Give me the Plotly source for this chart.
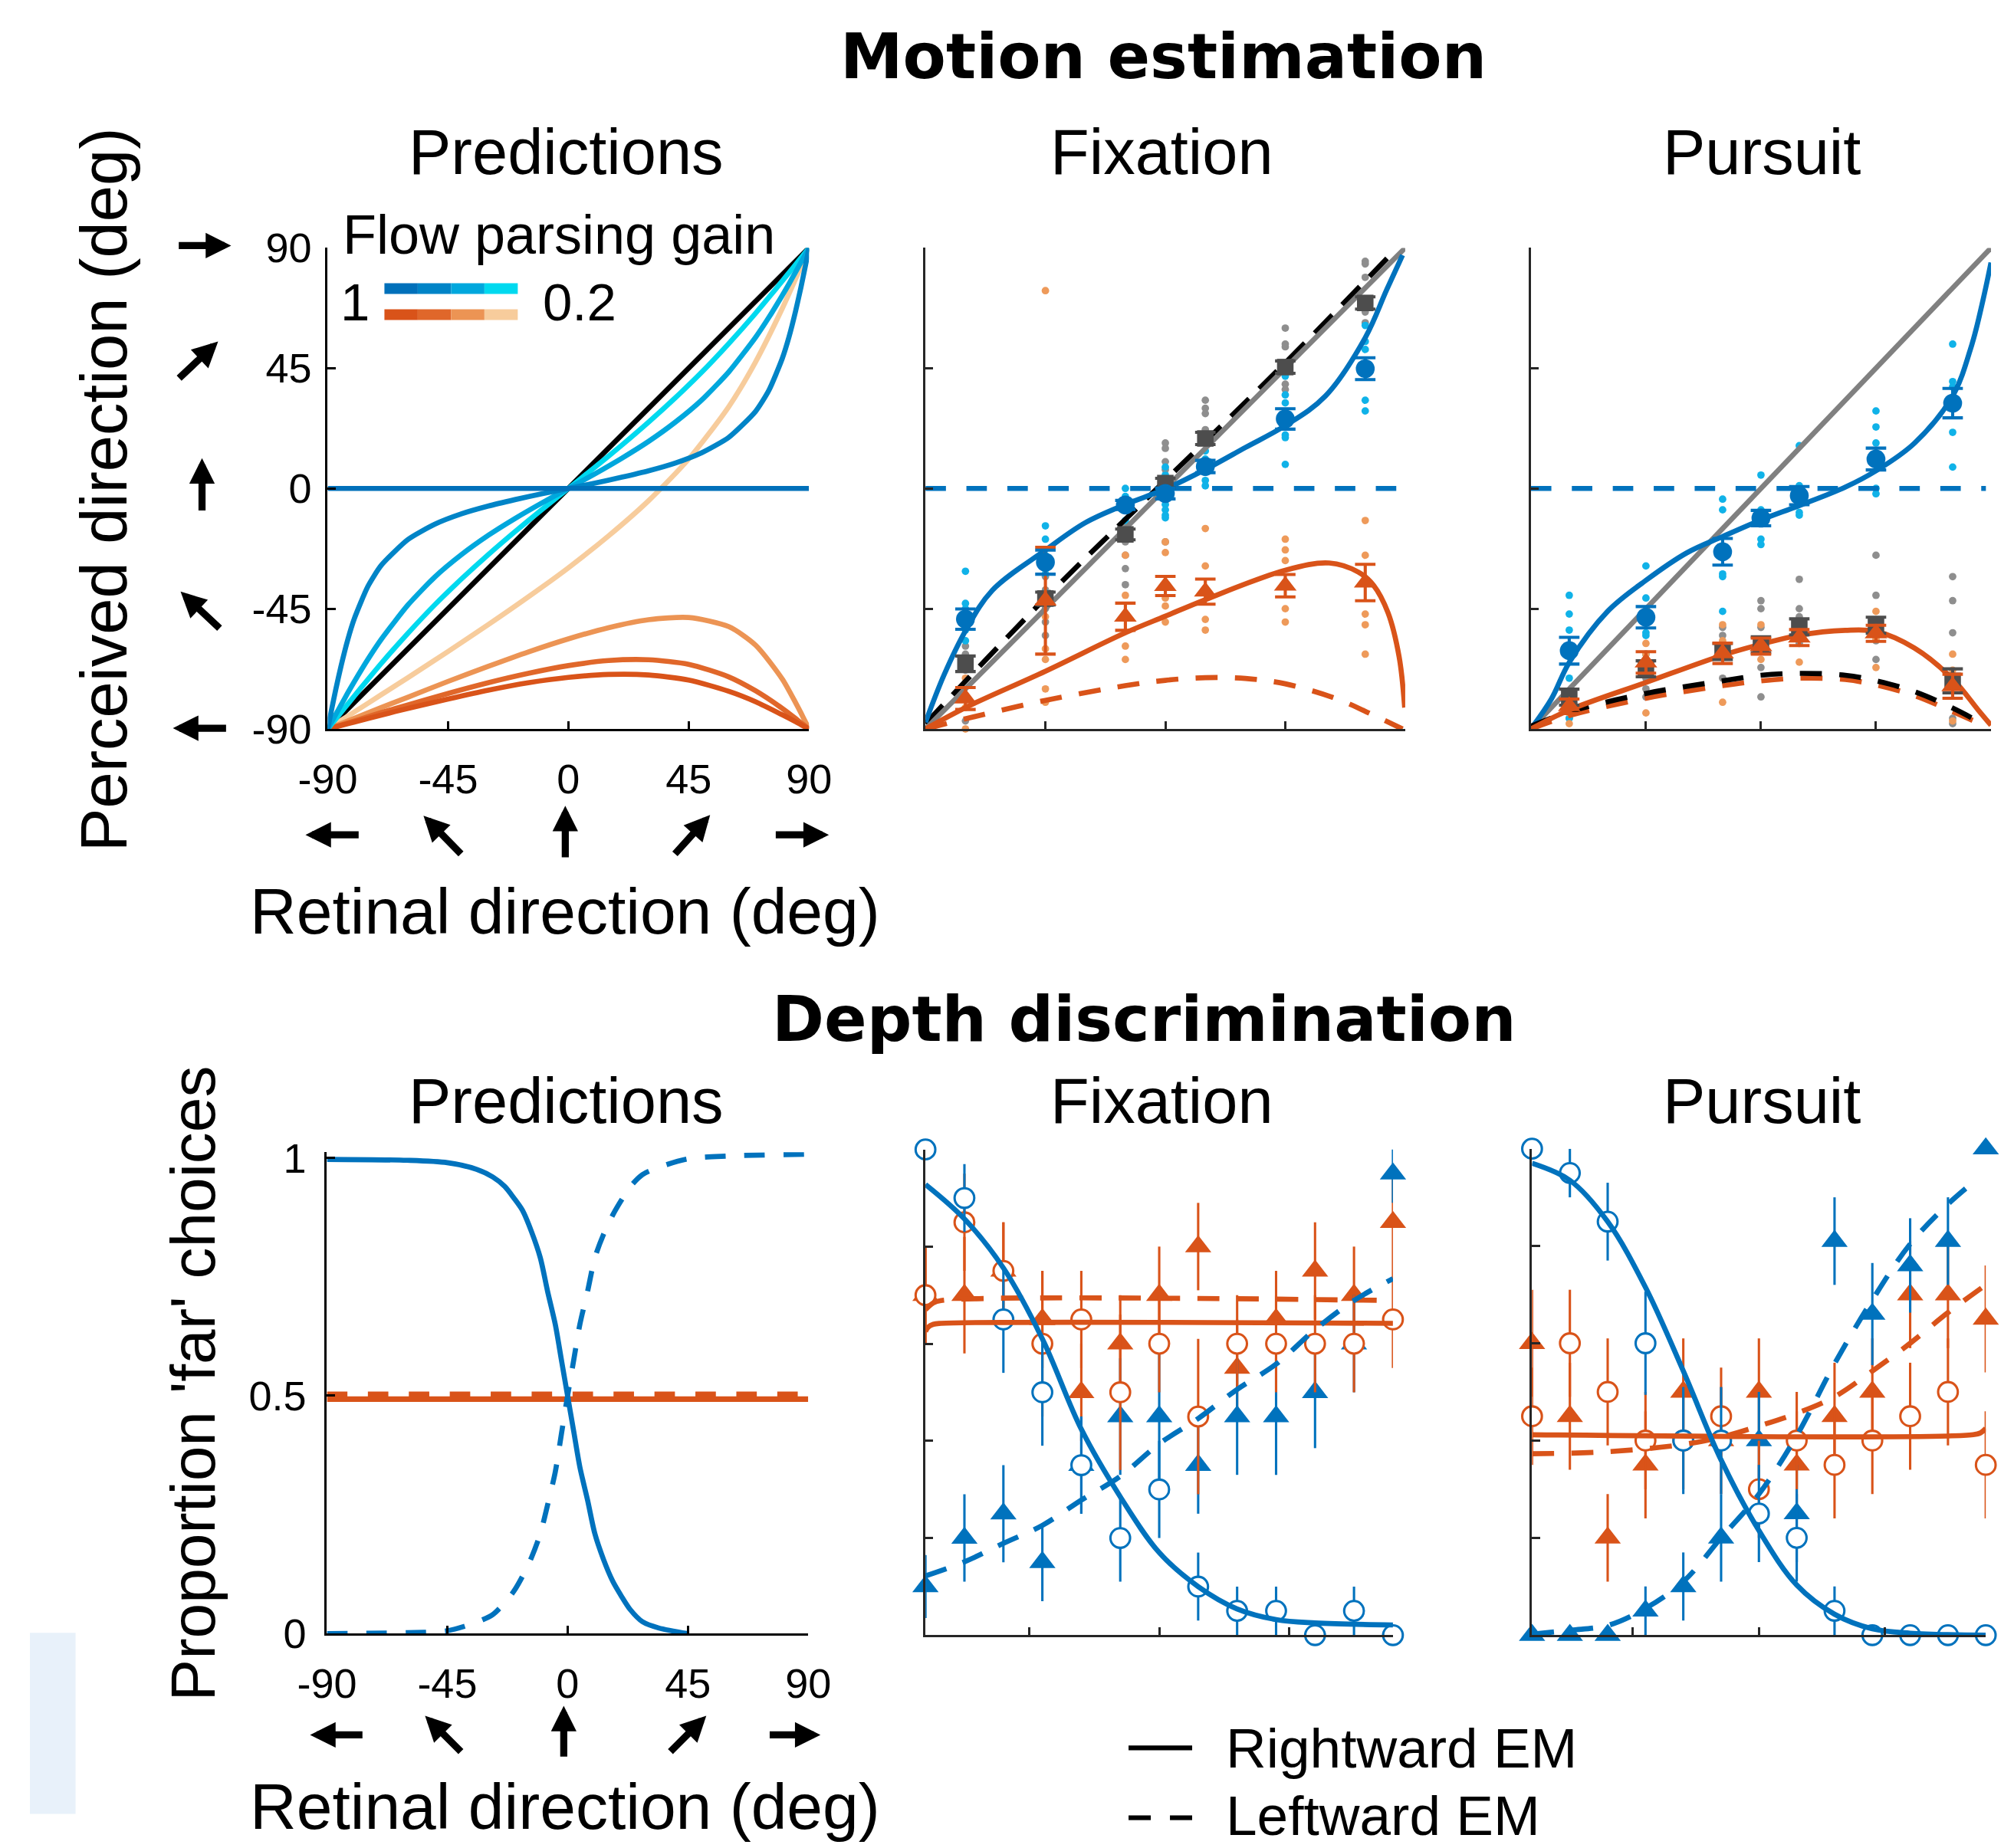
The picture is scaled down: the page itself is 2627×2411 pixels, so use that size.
import plotly.graph_objects as go

W, H = 2627, 2411
FONT = "Liberation Sans, Arial, Helvetica, sans-serif"
BOLDFONT = "DejaVu Sans, Verdana, sans-serif"

# ---------------- colours ----------------
BLUE = '#0072BD'
ORANGE = '#D95319'
GRAYM = '#4D4D4D'
LBLUE = '#10B2E8'
LGRAY = '#8E8E8E'
LORANGE = '#EE9A5A'
BLUE_GAIN = ['#0070BA', '#0084C7', '#00A7DD', '#00D9EF']
ORANGE_GAIN = ['#D95319', '#E0672A', '#EC9454', '#F7CC9C']

# ---------------- Motion estimation: predictions ----------------
pred_x = [-90, -89.5, -88.5, -87, -85, -82.5, -80, -75, -70, -60, -50, -40, -30, -20, -10, 0,
          10, 20, 30, 40, 50, 60, 70, 75, 80, 82.5, 85, 87, 88.5, 89.5, 90]
pred_blue_g1_x = [-90, 90]
pred_blue_g1_y = [0, 0]
pred_blue_g08 = [-90, -87.5, -82.5, -75.3, -66.4, -56.6, -48.6, -36.7, -28.8, -19.1, -13.4, -9.5, -6.6, -4.2, -2.0, 0,
                 2.0, 4.2, 6.6, 9.5, 13.4, 19.1, 28.8, 36.7, 48.6, 56.6, 66.4, 75.3, 82.5, 87.5, 90]
pred_blue_g05 = [-90, -89.1, -87.3, -84.6, -81.0, -76.5, -72.2, -64.0, -56.5, -43.6, -33.2, -24.8, -17.6, -11.3, -5.5, 0,
                 5.5, 11.3, 17.6, 24.8, 33.2, 43.6, 56.5, 64.0, 72.2, 76.5, 81.0, 84.6, 87.3, 89.1, 90]
pred_blue_g02 = [-90, -89.4, -88.1, -86.3, -83.8, -80.7, -77.6, -71.5, -65.5, -54.2, -43.6, -33.9, -24.8, -16.2, -8.0, 0,
                 8.0, 16.2, 24.8, 33.9, 43.6, 54.2, 65.5, 71.5, 77.6, 80.7, 83.8, 86.3, 88.1, 89.4, 90]
pred_or_x = [-90, -85, -80, -70, -60, -45, -30, -15, 0, 15, 30, 45, 60, 70, 80, 85, 87, 89, 90]
pred_or_g1 = [-90, -88.7, -87.4, -84.8, -82.3, -78.8, -75.5, -72.7, -70.7, -69.6, -69.8, -71.7, -75.9, -79.8, -84.7, -87.3, -88.4, -89.5, -90]
pred_or_g08 = [-90, -88.5, -87.0, -83.9, -81.0, -76.7, -72.7, -69.2, -66.3, -64.4, -64.1, -65.8, -70.5, -75.7, -82.3, -86.1, -87.7, -89.2, -90]
pred_or_g05 = [-90, -88.0, -86.0, -82.0, -78.1, -72.2, -66.6, -61.2, -56.3, -52.1, -49.1, -48.3, -51.7, -58.6, -71.3, -80.2, -84.0, -88.0, -90]
pred_or_g02 = [-90, -86.8, -83.6, -77.2, -70.8, -61.0, -51.0, -40.6, -29.7, -17.8, -4.6, 11.0, 30.6, 47.3, 67.3, 78.4, 83.0, 87.7, 90]

# ---------------- Motion estimation: data ----------------
dir_x = [-75, -45, -15, 0, 15, 45, 75]

fix_blue_mean = [-48.9, -27.6, -6.2, -1.9, 8.2, 26.0, 44.8]
fix_blue_err = [3.8, 4.5, 1.7, 2.0, 2.3, 3.8, 4.1]
fix_gray_mean = [-65.6, -41.2, -17.2, 2.0, 18.7, 45.4, 69.4]
fix_gray_err = [2.9, 2.4, 2.0, 1.8, 2.3, 2.3, 2.3]
fix_orange_mean = [-78.6, -42.0, -48.0, -36.5, -38.6, -36.4, -35.2]
fix_orange_err = [4.1, 20.0, 5.1, 3.6, 4.7, 4.2, 6.8]
fix_blue_dots = [[-31, -43, -45, -53, -57, -66], [-14, -19, -25, -32, -39], [0, -3, -5, -7, -12],
                 [8, 5, 3, 1, -3, -6, -8, -10, -11], [17, 14, 11, 6, 3, 1], [42, 35, 32, 27, 20, 19, 9],
                 [61, 55, 52, 33, 29]]
fix_gray_dots = [[-59, -62, -68, -87], [-33, -38, -45, -50, -55], [-14, -20, -25, -30, -36],
                 [17, 15, 10, 7, 3, -20], [33, 30, 28, 22, 18], [60, 54, 53, 39, 37], [85, 84, 79, 66, 62]]
fix_orange_dots = [[-64, -67, -71, -82, -90], [74, -48, -60, -64, -75, -80], [-25, -40, -59, -64],
                   [-20, -24, -41, -44, -50], [-15, -29, -49, -53], [-19, -23, -27, -45, -50],
                   [-12, -25, -47, -51, -62]]
fix_blue_fit_x = [-90, -83, -75, -65, -45, -30, -15, 0, 15, 30, 45, 60, 75, 83, 89]
fix_blue_fit_y = [-87.5, -69.7, -53.3, -38.2, -23.1, -12.8, -6.0, -0.2, 7.1, 15.3, 23.5, 34.5, 56.4, 74.2, 87.3]
fix_blue_dash_x = [-90, 88]
fix_blue_dash_y = [0, 0]
fix_or_fit_x = [-90, -75, -45, -15, 0, 15, 45, 61.5, 72.4, 78, 83.5, 87.7, 89.8]
fix_or_fit_y = [-90, -82, -68.4, -54, -47.8, -41.6, -30.6, -27.9, -31.3, -36.1, -46.4, -62.9, -82]
fix_or_dash_x = [-90, -75, -45, -15, 0, 15, 30, 45, 64, 78, 89]
fix_or_dash_y = [-90, -86.2, -79.3, -73.8, -71.8, -70.8, -71.1, -73.1, -78.6, -84.8, -90]
fix_black_dash_x = [-90, -45, 0, 45, 86]
fix_black_dash_y = [-88, -41, 3, 47, 89]
identity_x = [-90, 90]
identity_y = [-90, 90]

pur_blue_mean = [-60.7, -48.2, -23.7, -11.1, -2.7, 11.0, 31.9]
pur_blue_err = [5.0, 4.0, 5.0, 2.9, 3.4, 4.1, 5.5]
pur_gray_mean = [-78.1, -67.5, -61.0, -58.5, -51.8, -51.2, -72.0]
pur_gray_err = [3.0, 3.0, 3.0, 3.0, 3.0, 3.0, 4.5]
pur_orange_mean = [-81.5, -65.1, -61.7, -59.0, -55.8, -54.2, -74.0]
pur_orange_err = [2.7, 4.0, 3.8, 3.0, 3.0, 3.0, 4.5]
pur_blue_dots = [[-40, -47, -53, -71, -86], [-29, -41, -54, -55, -62], [-4, -8, -32, -33, -46],
                 [5, -19, -21, -12, -8], [16, 1, -9, -10, -2], [29, 23, 17, 0, -2], [54, 40, 38, 21, 8]]
pur_gray_dots = [[-77, -83, -86], [-69, -71, -75, -78], [-52, -55, -58, -71], [-42, -45, -52, -67, -78],
                 [-34, -45, -48, -58], [-25, -40, -57, -64], [-33, -42, -54, -86, -88]]
pur_orange_dots = [[-76, -84, -88], [-58, -62, -84], [-51, -57, -80], [-51, -64], [-50, -65],
                   [-46, -56, -67], [-62, -68, -87]]
pur_blue_fit_x = [-90, -82, -75, -60, -45, -29, -15, 0, 15, 33, 45, 60, 75, 82.5, 86.8, 90]
pur_blue_fit_y = [-90, -78.8, -65.1, -46, -34.4, -24.1, -18, -11.8, -6.4, 0.5, 6.6, 16.9, 34.6, 53.8, 70.2, 84.5]
pur_blue_dash_x = [-90, 88]
pur_blue_dash_y = [0, 0]
pur_or_fit_x = [-90, -75, -45, -15, 0, 15, 33, 45, 60, 75, 85, 90]
pur_or_fit_y = [-90, -82.9, -72.6, -62.4, -58.3, -54.9, -53.1, -53.5, -59.7, -71.3, -82.9, -88.6]
pur_black_dash_x = [-90, -75, -45, -15, 0, 15, 33, 45, 60, 75, 86]
pur_black_dash_y = [-89, -83.6, -76.7, -72, -69.9, -69.2, -69.9, -72, -76, -82.2, -87.7]
pur_or_dash_x = [-90, -75, -45, -15, 0, 15, 33, 45, 60, 75, 88]
pur_or_dash_y = [-90, -85, -78.5, -73.8, -72, -71, -71.5, -73.5, -77.5, -83.5, -89]

# ---------------- Depth discrimination: predictions ----------------
dpred_solid_x = [-90, -60, -45, -34, -28, -23.5, -20, -16.9, -13.5, -10.2, -7.5, -4.6, -2.3, 0,
                 2.3, 4.6, 7.5, 10.2, 13.5, 16.9, 20, 23.5, 28, 34, 45]
dpred_solid_y = [0.997, 0.995, 0.99, 0.976, 0.96, 0.94, 0.915, 0.89, 0.845, 0.79, 0.72, 0.65, 0.575, 0.5,
                 0.425, 0.35, 0.28, 0.21, 0.155, 0.11, 0.08, 0.05, 0.025, 0.012, 0.0]
dpred_dash_x = [-90, -60, -45, -34, -28, -23.5, -20, -16.9, -13.5, -10.2, -7.5, -4.6, -2.3, 0,
                2.3, 4.6, 7.5, 10.2, 13.5, 16.9, 20, 23.5, 28, 34, 45, 60, 90]
dpred_dash_y = [0.0, 0.002, 0.006, 0.024, 0.04, 0.065, 0.09, 0.12, 0.16, 0.21, 0.27, 0.34, 0.42, 0.5,
                0.575, 0.65, 0.72, 0.79, 0.84, 0.88, 0.91, 0.94, 0.965, 0.98, 0.998, 1.004, 1.008]
dpred_or_x = [-90, 90]
dpred_or_solid_y = [0.493, 0.493]
dpred_or_dash_y = [0.503, 0.503]

# ---------------- Depth discrimination: data ----------------
depth_x = [-90, -75, -60, -45, -30, -15, 0, 15, 30, 45, 60, 75, 90]

dfix_blue_R = [1.0, 0.9, 0.65, 0.5, 0.35, 0.2, 0.3, 0.1, 0.05, 0.05, 0.0, 0.05, 0.0]
dfix_blue_R_err = [0.0, 0.07, 0.11, 0.11, 0.1, 0.09, 0.1, 0.07, 0.05, 0.05, 0.0, 0.05, 0.0]
dfix_blue_L = [0.1, 0.2, 0.25, 0.15, 0.35, 0.45, 0.45, 0.35, 0.45, 0.45, 0.5, 0.6, 0.95]
dfix_blue_L_err = [0.065, 0.09, 0.1, 0.08, 0.1, 0.12, 0.13, 0.1, 0.12, 0.12, 0.115, 0.1, 0.06]
dfix_or_R = [0.7, 0.85, 0.75, 0.6, 0.65, 0.5, 0.6, 0.45, 0.6, 0.6, 0.6, 0.6, 0.65]
dfix_or_R_err = [0.1, 0.1, 0.1, 0.15, 0.1, 0.16, 0.1, 0.16, 0.1, 0.1, 0.1, 0.1, 0.1]
dfix_or_L = [0.7, 0.7, 0.75, 0.65, 0.5, 0.6, 0.7, 0.8, 0.55, 0.65, 0.75, 0.7, 0.85]
dfix_or_L_err = [0.1, 0.12, 0.1, 0.1, 0.1, 0.1, 0.1, 0.09, 0.1, 0.1, 0.1, 0.1, 0.1]
dfix_blue_fit_x = [-90, -75, -60, -45, -30, -15, 0, 15, 30, 45, 60, 90]
dfix_blue_fit_y = [0.928, 0.857, 0.756, 0.61, 0.424, 0.285, 0.17, 0.1, 0.054, 0.032, 0.025, 0.021]
dfix_blue_dash_x = [-90, -75, -60, -45, -30, -15, 0, 15, 30, 45, 60, 75, 90]
dfix_blue_dash_y = [0.122, 0.151, 0.189, 0.226, 0.278, 0.327, 0.394, 0.446, 0.506, 0.558, 0.629, 0.689, 0.734]
dfix_or_fit_x = [-90, -89, -87, -84, 90]
dfix_or_fit_y = [0.625, 0.634, 0.64, 0.642, 0.642]
dfix_or_dash_x = [-90, -87, -84, 90]
dfix_or_dash_y = [0.67, 0.684, 0.689, 0.689]

dpur_blue_R = [1.0, 0.95, 0.85, 0.6, 0.4, 0.4, 0.25, 0.2, 0.05, 0.0, 0.0, 0.0, 0.0]
dpur_blue_R_err = [0.0, 0.05, 0.08, 0.106, 0.11, 0.11, 0.1, 0.09, 0.05, 0.0, 0.0, 0.0, 0.0]
dpur_blue_L = [0.0, 0.0, 0.0, 0.05, 0.1, 0.2, 0.4, 0.25, 0.81, 0.66, 0.76, 0.81, 1.0]
dpur_blue_L_err = [0.0, 0.0, 0.0, 0.05, 0.07, 0.09, 0.1, 0.1, 0.09, 0.105, 0.097, 0.09, 0.0]
dpur_or_R = [0.45, 0.6, 0.5, 0.4, 0.4, 0.45, 0.3, 0.4, 0.35, 0.4, 0.45, 0.5, 0.35]
dpur_or_R_err = [0.1, 0.11, 0.11, 0.1, 0.1, 0.1, 0.1, 0.1, 0.11, 0.11, 0.11, 0.11, 0.11]
dpur_or_L = [0.6, 0.45, 0.2, 0.35, 0.5, 0.4, 0.5, 0.35, 0.45, 0.5, 0.7, 0.7, 0.65]
dpur_or_L_err = [0.11, 0.11, 0.09, 0.11, 0.11, 0.11, 0.11, 0.11, 0.11, 0.11, 0.11, 0.11, 0.11]
dpur_blue_fit_x = [-90, -75, -60, -45, -30, -15, 0, 15, 30, 45, 60, 90]
dpur_blue_fit_y = [0.97, 0.935, 0.85, 0.715, 0.543, 0.36, 0.215, 0.103, 0.043, 0.013, 0.004, 0.0]
dpur_blue_dash_x = [-90, -75, -60, -45, -30, -15, 0, 15, 30, 45, 60, 75, 86]
dpur_blue_dash_y = [0.002, 0.01, 0.02, 0.055, 0.11, 0.2, 0.29, 0.41, 0.558, 0.689, 0.804, 0.886, 0.935]
dpur_or_fit_x = [-90, 85, 88, 90]
dpur_or_fit_y = [0.412, 0.412, 0.416, 0.425]
dpur_or_dash_x = [-90, -60, -30, -15, 0, 15, 30, 45, 60, 75, 90]
dpur_or_dash_y = [0.373, 0.377, 0.392, 0.407, 0.43, 0.456, 0.49, 0.543, 0.6, 0.663, 0.72]

# ---------------- placement helpers ----------------
# The captured picture shows the page slightly reduced and offset; positions below are given in
# target-picture pixels and mapped back to figure pixels.
SC = 0.9741
OX, OY = 37.4, 31.9
K = 1.0 / SC
LW = 6.5


def FX(s):
    return (s - OX) / SC


def FY(s):
    return (s - OY) / SC


def PX(s):
    return FX(s) / W


def PY(s):
    return 1 - FY(s) / H


def dashp(a, b):
    return '%.1fpx,%.1fpx' % (a * K, b * K)


fig = go.Figure()


def line(ax, x, y, color, width=LW, dash='solid', smoothing=1.0, shape='spline'):
    fig.add_trace(go.Scatter(x=x, y=y, mode='lines', xaxis='x' + ax, yaxis='y' + ax,
                             line=dict(color=color, width=width * K, dash=dash, shape=shape, smoothing=smoothing),
                             hoverinfo='skip', showlegend=False, cliponaxis=False))


def dots(ax, xs, groups, color):
    xx, yy = [], []
    for x0, g in zip(xs, groups):
        xx += [x0] * len(g)
        yy += g
    fig.add_trace(go.Scatter(x=xx, y=yy, mode='markers', xaxis='x' + ax, yaxis='y' + ax,
                             marker=dict(size=9.5 * K, color=color, line=dict(width=0)),
                             hoverinfo='skip', showlegend=False, cliponaxis=False))


def means(ax, xs, m, e, color, symbol, size):
    fig.add_trace(go.Scatter(x=xs, y=m, mode='markers', xaxis='x' + ax, yaxis='y' + ax,
                             marker=dict(symbol=symbol, size=size * K, color=color, line=dict(width=0)),
                             error_y=dict(type='data', array=e, visible=True, color=color,
                                          thickness=4 * K, width=13 * K),
                             hoverinfo='skip', showlegend=False, cliponaxis=False))


def dmarks(ax, xs, m, e, color, is_open):
    if is_open:
        mk = dict(symbol='circle', size=25 * K, color='white', line=dict(color=color, width=3 * K))
    else:
        mk = dict(symbol='triangle-up', size=29 * K, color=color, line=dict(width=0))
    fig.add_trace(go.Scatter(x=xs, y=m, mode='markers', xaxis='x' + ax, yaxis='y' + ax, marker=mk,
                             error_y=dict(type='data', array=e, visible=True, color=color,
                                          thickness=3 * K, width=0),
                             hoverinfo='skip', showlegend=False, cliponaxis=False))


# Panel 1: motion predictions
line('', identity_x, identity_y, '#000000', shape='linear')
line('', pred_or_x, pred_or_g02, ORANGE_GAIN[3], smoothing=0.7)
line('', pred_or_x, pred_or_g05, ORANGE_GAIN[2], smoothing=0.7)
line('', pred_or_x, pred_or_g08, ORANGE_GAIN[1], smoothing=0.7)
line('', pred_or_x, pred_or_g1, ORANGE_GAIN[0], smoothing=0.7)
line('', pred_x, pred_blue_g02, BLUE_GAIN[3], smoothing=0.6)
line('', pred_x, pred_blue_g05, BLUE_GAIN[2], smoothing=0.6)
line('', pred_x, pred_blue_g08, BLUE_GAIN[1], smoothing=0.6)
line('', pred_blue_g1_x, pred_blue_g1_y, BLUE_GAIN[0], shape='linear')

# Panel 2: fixation
dots('2', dir_x, fix_gray_dots, LGRAY)
dots('2', dir_x, fix_blue_dots, LBLUE)
dots('2', dir_x, fix_orange_dots, LORANGE)
line('2', fix_black_dash_x, fix_black_dash_y, '#000000', dash=dashp(32, 18))
line('2', identity_x, identity_y, '#808080', shape='linear')
line('2', fix_blue_dash_x, fix_blue_dash_y, BLUE, dash=dashp(26, 26), shape='linear')
line('2', fix_blue_fit_x, fix_blue_fit_y, BLUE)
line('2', fix_or_dash_x, fix_or_dash_y, ORANGE, dash=dashp(28, 22))
line('2', fix_or_fit_x, fix_or_fit_y, ORANGE)
means('2', dir_x, fix_gray_mean, fix_gray_err, GRAYM, 'square', 21)
means('2', dir_x, fix_orange_mean, fix_orange_err, ORANGE, 'triangle-up', 25)
means('2', dir_x, fix_blue_mean, fix_blue_err, BLUE, 'circle', 24)

# Panel 3: pursuit
dots('3', dir_x, pur_gray_dots, LGRAY)
dots('3', dir_x, pur_blue_dots, LBLUE)
dots('3', dir_x, pur_orange_dots, LORANGE)
line('3', identity_x, identity_y, '#808080', shape='linear')
line('3', pur_blue_dash_x, pur_blue_dash_y, BLUE, dash=dashp(26, 26), shape='linear')
line('3', pur_blue_fit_x, pur_blue_fit_y, BLUE)
line('3', pur_or_dash_x, pur_or_dash_y, ORANGE, dash=dashp(28, 22))
line('3', pur_black_dash_x, pur_black_dash_y, '#000000', dash=dashp(28, 22))
line('3', pur_or_fit_x, pur_or_fit_y, ORANGE)
means('3', dir_x, pur_gray_mean, pur_gray_err, GRAYM, 'square', 21)
means('3', dir_x, pur_orange_mean, pur_orange_err, ORANGE, 'triangle-up', 25)
means('3', dir_x, pur_blue_mean, pur_blue_err, BLUE, 'circle', 24)

# Panel 4: depth predictions
line('4', dpred_or_x, dpred_or_dash_y, ORANGE, width=7, dash=dashp(26, 26), shape='linear')
line('4', dpred_or_x, dpred_or_solid_y, ORANGE, width=7, shape='linear')
line('4', dpred_solid_x, dpred_solid_y, BLUE, smoothing=0.8)
line('4', dpred_dash_x, dpred_dash_y, BLUE, dash=dashp(26, 24), smoothing=0.8)

# Panel 5: depth fixation
dmarks('5', depth_x, dfix_or_L, dfix_or_L_err, ORANGE, False)
dmarks('5', depth_x, dfix_blue_L, dfix_blue_L_err, BLUE, False)
dmarks('5', depth_x, dfix_or_R, dfix_or_R_err, ORANGE, True)
dmarks('5', depth_x, dfix_blue_R, dfix_blue_R_err, BLUE, True)
line('5', dfix_or_fit_x, dfix_or_fit_y, ORANGE)
line('5', dfix_or_dash_x, dfix_or_dash_y, ORANGE, dash=dashp(28, 22))
line('5', dfix_blue_fit_x, dfix_blue_fit_y, BLUE)
line('5', dfix_blue_dash_x, dfix_blue_dash_y, BLUE, dash=dashp(28, 22))

# Panel 6: depth pursuit
dmarks('6', depth_x, dpur_or_L, dpur_or_L_err, ORANGE, False)
dmarks('6', depth_x, dpur_blue_L, dpur_blue_L_err, BLUE, False)
dmarks('6', depth_x, dpur_or_R, dpur_or_R_err, ORANGE, True)
dmarks('6', depth_x, dpur_blue_R, dpur_blue_R_err, BLUE, True)
line('6', dpur_or_fit_x, dpur_or_fit_y, ORANGE)
line('6', dpur_or_dash_x, dpur_or_dash_y, ORANGE, dash=dashp(28, 22))
line('6', dpur_blue_fit_x, dpur_blue_fit_y, BLUE)
line('6', dpur_blue_dash_x, dpur_blue_dash_y, BLUE, dash=dashp(28, 22))


# ---------------- axes ----------------
def dxs(a, b):
    return [max(0.0, PX(a)), min(1.0, PX(b))]


def dys(top, bottom):
    return [PY(bottom), PY(top)]


def axis(domain, rng, anchor, tickvals, labels=None, color='#262626', standoff=0):
    d = dict(domain=domain, range=rng, anchor=anchor, showgrid=False, zeroline=False, showline=True,
             linecolor=color, linewidth=3 * K, ticks='inside', ticklen=10 * K, tickwidth=3 * K, tickcolor=color,
             tickvals=tickvals, layer='above traces', fixedrange=True,
             tickfont=dict(family=FONT, size=54, color='black'))
    if labels is None:
        d['showticklabels'] = False
    else:
        d['ticktext'] = labels
        d['ticklabelstandoff'] = standoff
    return d


deg_ticks = [-90, -45, 0, 45, 90]
deg_labels = ['-90', '-45', '0', '45', '90']
top_y = dys(325, 952)

layout_axes = dict(
    xaxis=axis(dxs(426, 1054), [-90, 90], 'y', deg_ticks, deg_labels, color='#000000', standoff=16),
    yaxis=axis(top_y, [-90, 90], 'x', deg_ticks, deg_labels, color='#000000', standoff=7),
    xaxis2=axis(dxs(1206, 1832), [-90, 90], 'y2', deg_ticks),
    yaxis2=axis(top_y, [-90, 90], 'x2', deg_ticks),
    xaxis3=axis([PX(1996), 1.0], [-90, 90], 'y3', deg_ticks),
    yaxis3=axis(top_y, [-90, 90], 'x3', deg_ticks),
    xaxis4=axis(dxs(425, 1053), [-90, 90], 'y4', deg_ticks, deg_labels, color='#000000', standoff=16),
    yaxis4=axis(dys(1503.6, 2131), [0, 1.012], 'x4', [0, 0.5, 1], ['0', '0.5', '1'], color='#000000', standoff=13),
    xaxis5=axis(dxs(1206, 1816), [-90, 90], 'y5', [-50, 0, 50]),
    yaxis5=axis(dys(1500, 2133), [0, 1], 'x5', [0, 0.2, 0.4, 0.6, 0.8, 1]),
    xaxis6=axis([PX(1997.5), 2620 / W], [-90, 90], 'y6', [-50, 0, 50]),
    yaxis6=axis(dys(1499, 2133), [0, 1], 'x6', [0, 0.2, 0.4, 0.6, 0.8, 1]),
)

# ---------------- text ----------------
ann = []


def text(s, x, y, size, family=FONT, xanchor='center', angle=0):
    ann.append(dict(text=s, x=PX(x), y=PY(y), xref='paper', yref='paper', showarrow=False,
                    xanchor=xanchor, yanchor='middle', textangle=angle,
                    font=dict(family=family, size=size, color='black')))


def arrow(tail, tip):
    ann.append(dict(text='', x=PX(tip[0]), y=PY(tip[1]), xref='paper', yref='paper', showarrow=True,
                    ax=(tail[0] - tip[0]) * K, ay=(tail[1] - tip[1]) * K, axref='pixel', ayref='pixel',
                    arrowhead=2, arrowsize=0.72, arrowwidth=9 * K, arrowcolor='black',
                    standoff=0, startstandoff=0))


text('<b>Motion estimation</b>', 1516, 75, 82, family=BOLDFONT)
text('<b>Depth discrimination</b>', 1491, 1330, 82, family=BOLDFONT)
for name, xc in [('Predictions', 737), ('Fixation', 1514), ('Pursuit', 2297)]:
    text(name, xc, 200, 83)
    text(name, xc, 1437, 83)
text('Perceived direction (deg)', 134, 640, 85, angle=-90)
text("Proportion 'far' choices", 250, 1805, 82, angle=-90)
text('Retinal direction (deg)', 736, 1190, 84)
text('Retinal direction (deg)', 736, 2356, 84)
text('Flow parsing gain', 444, 308, 72, xanchor='left')
text('1', 441, 396, 69, xanchor='left')
text('0.2', 705, 396, 69, xanchor='left')
text('Rightward EM', 1596, 2280, 73, xanchor='left')
text('Leftward EM', 1596, 2368, 73, xanchor='left')

# direction arrows (y axis of motion predictions)
arrow((232, 322), (300, 322))
arrow((232, 495), (283, 447))
arrow((262, 667), (262, 599))
arrow((285, 821), (234, 773))
arrow((293, 951), (224, 951))
# direction arrows below x tick labels
arrow((466, 1090), (397, 1090))
arrow((600, 1115), (551, 1065))
arrow((736, 1119), (736, 1052))
arrow((879, 1115), (925, 1064))
arrow((1011, 1090), (1080, 1090))
arrow((471, 2263), (403, 2263))
arrow((600, 2285), (553, 2238))
arrow((734, 2291), (734, 2225))
arrow((873, 2285), (920, 2238))
arrow((1003, 2263), (1069, 2263))

# ---------------- shapes (legend swatches etc.) ----------------
shapes = []
seg = 43.5
for i in range(4):
    x0 = 500 + i * seg
    shapes.append(dict(type='rect', xref='paper', yref='paper', x0=PX(x0), x1=PX(x0 + seg),
                       y0=PY(385), y1=PY(371), fillcolor=BLUE_GAIN[i], line=dict(width=0)))
    shapes.append(dict(type='rect', xref='paper', yref='paper', x0=PX(x0), x1=PX(x0 + seg),
                       y0=PY(419), y1=PY(405), fillcolor=ORANGE_GAIN[i], line=dict(width=0)))
shapes.append(dict(type='line', xref='paper', yref='paper', x0=PX(1471), x1=PX(1554),
                   y0=PY(2280), y1=PY(2280), line=dict(color='black', width=6 * K)))
shapes.append(dict(type='line', xref='paper', yref='paper', x0=PX(1471), x1=PX(1500),
                   y0=PY(2371), y1=PY(2371), line=dict(color='black', width=6 * K)))
shapes.append(dict(type='line', xref='paper', yref='paper', x0=PX(1525), x1=PX(1554),
                   y0=PY(2371), y1=PY(2371), line=dict(color='black', width=6 * K)))
shapes.append(dict(type='rect', xref='paper', yref='paper', x0=0, x1=PX(97),
                   y0=PY(2366), y1=PY(2130), fillcolor='#E8F1FA', line=dict(width=0), layer='below'))

fig.update_layout(width=W, height=H, autosize=False, margin=dict(l=0, r=0, t=0, b=0),
                  paper_bgcolor='white', plot_bgcolor='rgba(0,0,0,0)', showlegend=False,
                  annotations=ann, shapes=shapes, **layout_axes)

fig.write_html("out.html")
